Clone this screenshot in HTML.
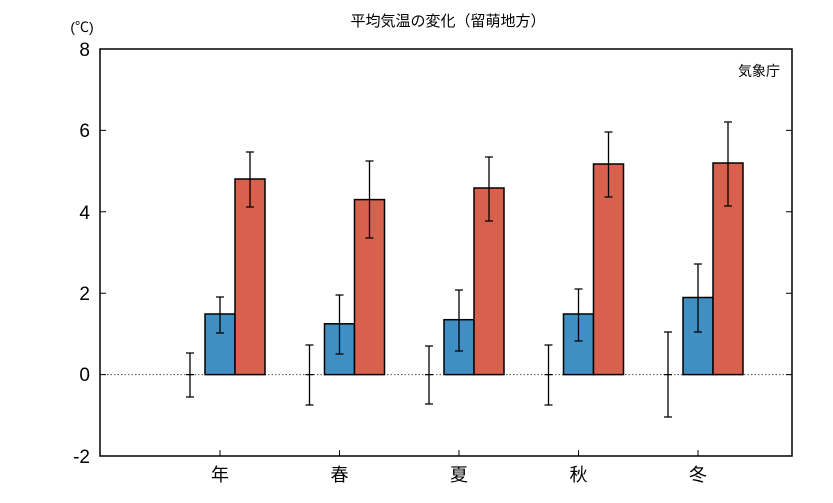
<!DOCTYPE html>
<html><head><meta charset="utf-8"><style>body{margin:0;background:#fff}</style></head><body>
<svg width="833" height="498" xmlns="http://www.w3.org/2000/svg" font-family="Liberation Sans, Noto Sans CJK JP, sans-serif">
<rect width="833" height="498" fill="#fff"/>
<text x="448" y="26" font-size="15" text-anchor="middle">平均気温の変化（留萌地方）</text>
<text x="82" y="32" font-size="14" text-anchor="middle">(℃)</text>
<g font-size="19" text-anchor="end">
<text x="90" y="56">8</text><text x="90" y="137">6</text><text x="90" y="219">4</text>
<text x="90" y="300">2</text><text x="90" y="381">0</text><text x="90" y="463">-2</text>
</g>
<text x="780" y="76" font-size="14" text-anchor="end">気象庁</text>
<line x1="100" y1="374.6" x2="792" y2="374.6" stroke="#555" stroke-width="1" stroke-dasharray="1.5,2"/>
<g stroke="#000" stroke-width="1.5">
<!-- bars -->
<rect x="205" y="314" width="30" height="60.6" fill="#3f8fc3"/><rect x="235" y="179" width="30" height="195.6" fill="#d8614e"/>
<rect x="324.5" y="323.8" width="30" height="50.8" fill="#3f8fc3"/><rect x="354.5" y="199.6" width="30" height="175" fill="#d8614e"/>
<rect x="444" y="319.7" width="30" height="54.9" fill="#3f8fc3"/><rect x="474" y="188" width="30" height="186.6" fill="#d8614e"/>
<rect x="563.5" y="314" width="30" height="60.6" fill="#3f8fc3"/><rect x="593.5" y="164" width="30" height="210.6" fill="#d8614e"/>
<rect x="683" y="297.5" width="30" height="77.1" fill="#3f8fc3"/><rect x="713" y="163" width="30" height="211.6" fill="#d8614e"/>
</g>
<g stroke="#000" stroke-width="1.3" fill="none">
<path d="M190 353V397M186 353H194M186 397H194M186 374.6H194"/>
<path d="M220 297V333M216 297H224M216 333H224"/>
<path d="M250 152V207M246 152H254M246 207H254"/>
<path d="M309.5 345V405M305.5 345H313.5M305.5 405H313.5M305.5 374.6H313.5"/>
<path d="M339.5 295V354M335.5 295H343.5M335.5 354H343.5"/>
<path d="M369.5 161V238M365.5 161H373.5M365.5 238H373.5"/>
<path d="M429 346V404M425 346H433M425 404H433M425 374.6H433"/>
<path d="M459 290V351M455 290H463M455 351H463"/>
<path d="M489 157V221M485 157H493M485 221H493"/>
<path d="M548.5 345V405M544.5 345H552.5M544.5 405H552.5M544.5 374.6H552.5"/>
<path d="M578.5 289V341M574.5 289H582.5M574.5 341H582.5"/>
<path d="M608.5 132V197M604.5 132H612.5M604.5 197H612.5"/>
<path d="M668 332V417M664 332H672M664 417H672M664 374.6H672"/>
<path d="M698 264V332M694 264H702M694 332H702"/>
<path d="M728 122V206M724 122H732M724 206H732"/>
</g>
<rect x="100" y="49" width="692" height="407" fill="none" stroke="#000" stroke-width="1.5"/>
<g stroke="#000" stroke-width="1">
<path d="M100 130.4H106M100 211.8H106M100 293.2H106M100 374.6H106M792 130.4H786M792 211.8H786M792 293.2H786M792 374.6H786"/>
<path d="M220 456V450M339.5 456V450M459 456V450M578.5 456V450M698 456V450"/>
</g>
<g font-size="18" text-anchor="middle">
<text x="220" y="481">年</text><text x="339.5" y="481">春</text><text x="459" y="481">夏</text><text x="578.5" y="481">秋</text><text x="698" y="481">冬</text>
</g>
</svg>
</body></html>
